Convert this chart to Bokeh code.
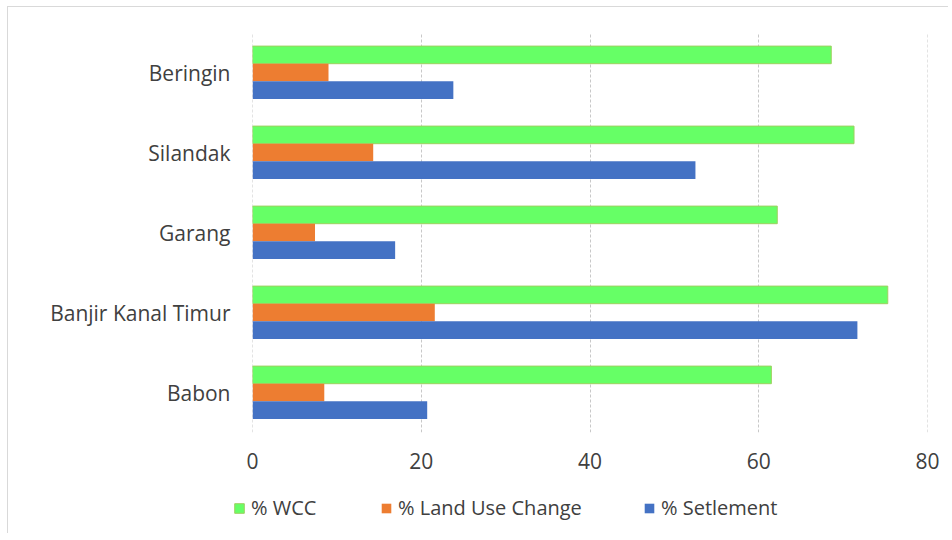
from bokeh.plotting import figure
from bokeh.layouts import column
from bokeh.models import (FactorRange, Range1d, Legend, LegendItem, FixedTicker,
                          ColumnDataSource)
from bokeh.transform import dodge
from bokeh.embed import file_html
from bokeh.resources import INLINE

# ---- data ----
rivers = ["Babon", "Banjir Kanal Timur", "Garang", "Silandak", "Beringin"]
wcc = [61.5, 75.3, 62.2, 71.3, 68.6]
land_use_change = [8.5, 21.6, 7.4, 14.3, 9.0]
setlement = [20.7, 71.7, 16.9, 52.5, 23.8]
series_names = ["% WCC", "% Land Use Change", "% Setlement"]
x_ticks = [0, 20, 40, 60, 80]

FONT = "Open Sans"
TXT = "#404040"
COLORS = ["#66ff66", "#ed7d31", "#4472c4"]
LINES = ["#9ed060", None, None]
W = 940

src = ColumnDataSource(dict(river=rivers, wcc=wcc, luc=land_use_change, st=setlement))

p = figure(width=W, height=478, output_backend="svg", toolbar_location=None,
           y_range=FactorRange(*rivers), x_range=Range1d(-0.01, 80.01),
           min_border_left=244, min_border_right=21, min_border_top=25,
           min_border_bottom=53)
p.outline_line_color = None

bh = 0.22
offsets = [bh, 0, -bh]
fields = ["wcc", "luc", "st"]
for f, off, c, lc in zip(fields, offsets, COLORS, LINES):
    p.hbar(y=dodge("river", off, range=p.y_range), left=0, right=f, height=bh,
           source=src, fill_color=c, line_color=lc, line_width=1)

p.xaxis.ticker = FixedTicker(ticks=x_ticks)
for ax in (p.xaxis, p.yaxis):
    ax.axis_line_color = None
    ax.major_tick_line_color = None
    ax.minor_tick_line_color = None
    ax.major_tick_out = 0
    ax.major_tick_in = 0
    ax.major_label_text_font = FONT
    ax.major_label_text_font_size = "21px"
    ax.major_label_text_color = TXT
p.xaxis.major_label_standoff = 20
p.yaxis.major_label_standoff = 22

p.ygrid.grid_line_color = None
p.xgrid.grid_line_color = "#c8c8c8"
p.xgrid.grid_line_dash = "3 2"

# ---- legend strip (own figure, frame not aligned with the chart above) ----
lf = figure(width=W, height=48, output_backend="svg", toolbar_location=None,
            x_range=Range1d(0, W), y_range=Range1d(0, 48),
            min_border=0, x_axis_location=None, y_axis_location=None)
lf.frame_align = False
lf.outline_line_color = None
lf.xgrid.grid_line_color = None
lf.ygrid.grid_line_color = None
# swatch sources sit outside the visible range; only the legend glyphs show
swatch = ColumnDataSource(dict(y=[-1000], right=[1]))
legend_x = [225, 372, 635]
for name, c, lc, lx in zip(series_names, COLORS, LINES, legend_x):
    r = lf.hbar(y="y", right="right", left=0, height=1, source=swatch,
                fill_color=c, line_color=lc)
    lg = Legend(items=[LegendItem(label=name, renderers=[r])], location=(lx, 12),
                orientation="horizontal", glyph_width=12, glyph_height=12,
                label_text_font=FONT, label_text_font_size="20px",
                label_text_color=TXT, label_standoff=6, padding=0, margin=0,
                border_line_color=None, background_fill_alpha=0)
    lf.add_layout(lg, "center")

layout = column(p, lf, spacing=0)
layout.styles = {"margin-left": "7px", "margin-top": "6px",
                 "border-left": "1px solid #d9d9d9", "border-top": "1px solid #d9d9d9"}

open("out.html", "w").write(file_html(layout, INLINE))
